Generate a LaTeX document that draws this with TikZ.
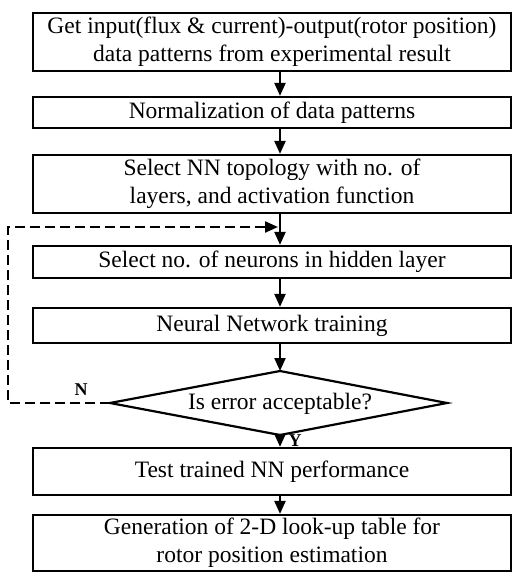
\documentclass[tikz,border=0pt]{standalone}
\usepackage{fontspec}
\setmainfont{Liberation Serif}
\usetikzlibrary{arrows.meta}
\begin{document}
\begin{tikzpicture}[x=1pt,y=-1pt,
  box/.style={draw,line width=2.2pt,minimum width=478pt,inner sep=0pt,align=center,
    font=\fontsize{23.5}{28}\selectfont},
  flow/.style={line width=2.2pt,-{Triangle[width=11pt,length=13pt]}},
  loop/.style={line width=2.2pt,dash pattern=on 10pt off 5pt,-{Triangle[width=11pt,length=13pt]}},
  lbl/.style={font=\fontsize{18}{20}\selectfont\bfseries,inner sep=0pt}]
\useasboundingbox (0,0) rectangle (512,572);
\node[box,minimum height=58pt] (b1) at (272,42) {Get input(flux \& current)-output(rotor position)\\data patterns from experimental result};
\node[box,minimum height=31pt] (b2) at (272,112.5) {Normalization of data patterns};
\node[box,minimum height=58pt] (b3) at (272,184) {Select NN topology with no. of\\layers, and activation function};
\node[box,minimum height=32pt] (b4) at (272,262) {Select no. of neurons in hidden layer};
\node[box,minimum height=35pt] (b5) at (272,325.5) {Neural Network training};
\coordinate (dt) at (280,371);
\coordinate (dr) at (447,403);
\coordinate (db) at (280,435);
\coordinate (dl) at (110,403);
\draw[line width=2.2pt,line join=miter] (dt) -- (dr) -- (db) -- (dl) -- cycle;
\node[font=\fontsize{23.5}{28}\selectfont,inner sep=0pt] (dtext) at (280,404) {Is error acceptable?};
\node[box,minimum height=47pt] (b6) at (272,471.5) {Test trained NN performance};
\node[box,minimum height=56pt] (b7) at (272,543) {Generation of 2-D look-up table for\\rotor position estimation};
\draw[flow] (b1.south -| dt) -- (b2.north -| dt);
\draw[flow] (b2.south -| dt) -- (b3.north -| dt);
\draw[flow] (b3.south -| dt) -- (b4.north -| dt);
\draw[flow] (b4.south -| dt) -- (b5.north -| dt);
\draw[flow] (b5.south -| dt) -- (dt);
\draw[flow] (db) -- (b6.north -| dt);
\draw[flow] (b6.south -| dt) -- (b7.north -| dt);
\coordinate (lp1) at (8,403);
\coordinate (lp2) at (8,227);
\coordinate (lp3) at (278,227);
\draw[loop] (dl) -- (lp1) -- (lp2) -- (lp3);
\node[lbl] (nlab) at (81,390) {N};
\node[lbl] (ylab) at (295,441) {Y};
\end{tikzpicture}
\end{document}
